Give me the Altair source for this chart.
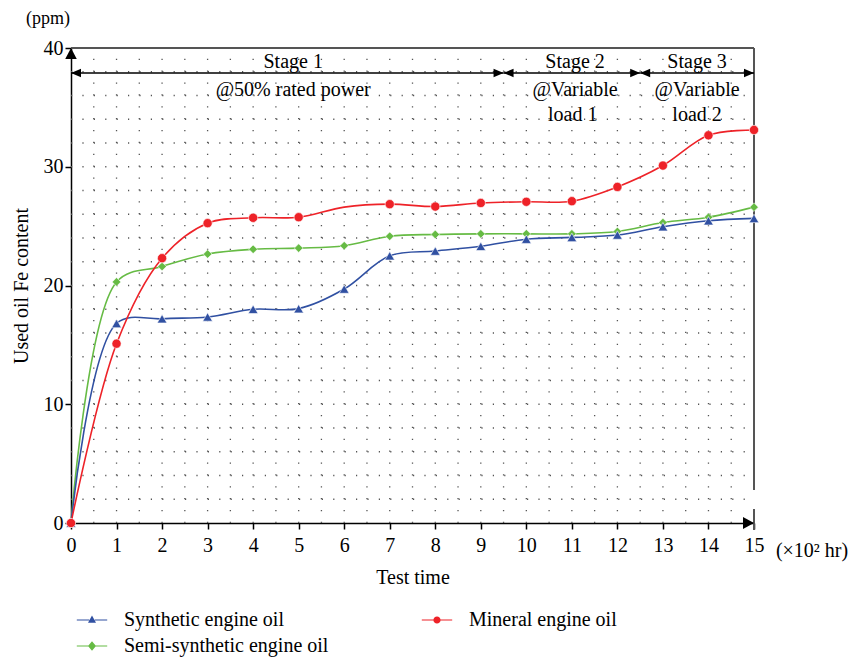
import altair as alt
import pandas as pd

# ---------------- data ----------------
t = list(range(16))
series_names = ["Synthetic engine oil", "Mineral engine oil", "Semi-synthetic engine oil"]
colors = ["#3050a2", "#ee2228", "#66bb44"]
synthetic = [0, 16.8, 17.2, 17.35, 18.0, 18.05, 19.7, 22.5, 22.9, 23.3, 23.9, 24.05, 24.25, 24.95, 25.45, 25.65]
mineral = [0, 15.1, 22.3, 25.25, 25.7, 25.75, 26.6, 26.85, 26.65, 26.95, 27.05, 27.1, 28.3, 30.1, 32.65, 33.1]
semi = [0, 20.3, 21.6, 22.65, 23.05, 23.15, 23.35, 24.15, 24.3, 24.35, 24.35, 24.35, 24.55, 25.3, 25.75, 26.6]
mineral_no_marker = [6]

x_ticks = list(range(16))
y_ticks = [0, 10, 20, 30, 40]

stage_starts = [0, 9.5, 12.5]
stage_ends = [9.5, 12.5, 15]
stage_arrow_y = 37.9
stage_text_x = [4.88, 4.88, 11.07, 11.07, 11.02, 13.75, 13.75, 13.75]
stage_text_y = [38.8, 36.5, 38.8, 36.5, 34.4, 38.8, 36.5, 34.4]
stage_text = ["Stage 1", "@50% rated power", "Stage 2", "@Variable", "load 1",
              "Stage 3", "@Variable", "load 2"]

grid_x = [i / 2 for i in range(1, 30)]
grid_y = [i for i in range(2, 40, 2)]

FONT = "Liberation Serif"

rows = []
for name, vals in [("Semi-synthetic engine oil", semi), ("Synthetic engine oil", synthetic),
                   ("Mineral engine oil", mineral)]:
    for ti, v in zip(t, vals):
        marker = not (name == "Mineral engine oil" and ti in mineral_no_marker)
        rows.append({"t": ti, "value": v, "series": name, "marker": marker})
df = pd.DataFrame(rows)

xs = alt.Scale(domain=[0, 15], nice=False, zero=False)
ys = alt.Scale(domain=[0, 40], nice=False, zero=False)
x_axis = alt.Axis(values=x_ticks, title="Test time", format="d", labelFlush=False,
                  labelPadding=6, titlePadding=12, tickSize=6)
y_axis = alt.Axis(values=y_ticks, title="Used oil Fe content", labelFlush=False,
                  labelPadding=2, titlePadding=12, tickSize=6)


def X(f, **kw):
    return alt.X(f, type="quantitative", scale=xs, axis=x_axis, **kw)


def Y(f, **kw):
    return alt.Y(f, type="quantitative", scale=ys, axis=y_axis, **kw)


# grid
vgrid = alt.Chart(pd.DataFrame({"gx": grid_x, "y0": 0, "y1": 40})).mark_rule(
    color="#555555", strokeWidth=1.3, strokeDash=[1.2, 10.675]
).encode(x=X("gx"), y=Y("y0"), y2="y1")
hgrid = alt.Chart(pd.DataFrame({"gy": grid_y, "x0": 0, "x1": 15})).mark_rule(
    color="#555555", strokeWidth=1.3, strokeDash=[1.2, 10.2]
).encode(y=Y("gy"), x=X("x0"), x2="x1")

# frame (top and right)
top_frame = alt.Chart(pd.DataFrame({"x0": [0], "x1": [15], "y": [40]})).mark_rule(
    color="#555555", strokeWidth=2
).encode(x=X("x0"), x2="x1", y=Y("y"))
right_frame = alt.Chart(pd.DataFrame({"x": [15, 15], "y0": [40, 1.18], "y1": [2.78, -0.6]})).mark_rule(
    color="#555555", strokeWidth=2
).encode(x=X("x"), y=Y("y0"), y2="y1")

# axis arrowheads
y_arrow = alt.Chart(pd.DataFrame({"x": [0], "y": [40]})).mark_point(
    shape="M0,-1L1.05,1L-1.05,1Z", size=121, filled=True, color="black", opacity=1, yOffset=5.5
).encode(x=X("x"), y=Y("y"))
x_arrow = alt.Chart(pd.DataFrame({"x": [15], "y": [0]})).mark_point(
    shape="M1,0L-1,-1.1L-1,1.1Z", size=121, filled=True, color="black", opacity=1, xOffset=-5.5
).encode(x=X("x"), y=Y("y"))

# stage arrows
stage_df = pd.DataFrame({"x0": stage_starts, "x1": stage_ends, "y": stage_arrow_y})
stage_lines = alt.Chart(stage_df).mark_rule(color="black", strokeWidth=1.5).encode(
    x=X("x0"), x2="x1", y=Y("y"))
stage_left = alt.Chart(stage_df).mark_point(
    shape="M-1,0L1,-0.85L1,0.85Z", size=100, filled=True, color="black", opacity=1, xOffset=5
).encode(x=X("x0"), y=Y("y"))
stage_right = alt.Chart(stage_df).mark_point(
    shape="M1,0L-1,-0.85L-1,0.85Z", size=100, filled=True, color="black", opacity=1, xOffset=-5
).encode(x=X("x1"), y=Y("y"))
stage_labels = alt.Chart(pd.DataFrame({"x": stage_text_x, "y": stage_text_y, "txt": stage_text})).mark_text(
    font=FONT, fontSize=20, color="black", align="center", baseline="middle"
).encode(x=X("x"), y=Y("y"), text="txt:N")

# extra texts
ppm = alt.Chart(pd.DataFrame({"x": [0], "y": [40], "txt": ["(ppm)"]})).mark_text(
    font=FONT, fontSize=18, color="black", align="center", baseline="middle", dx=-23, dy=-29
).encode(x=X("x"), y=Y("y"), text="txt:N")
unit = alt.Chart(pd.DataFrame({"x": [15], "y": [0], "txt": ["(×10² hr)"]})).mark_text(
    font=FONT, fontSize=20, color="black", align="center", baseline="middle", dx=58, dy=28
).encode(x=X("x"), y=Y("y"), text="txt:N")

# data lines & markers
color_scale = alt.Scale(domain=series_names, range=colors)
lines = alt.Chart(df).mark_line(interpolate="catmull-rom", strokeWidth=1.6).encode(
    x=X("t"), y=Y("value"),
    color=alt.Color("series:N", scale=color_scale, legend=None),
    detail="series:N",
)
points = alt.Chart(df).transform_filter("datum.marker").mark_point(
    filled=True, opacity=1, stroke="white", strokeWidth=0.6
).encode(
    x=X("t"), y=Y("value"),
    color=alt.Color("series:N", scale=color_scale, legend=None),
    shape=alt.Shape("series:N", scale=alt.Scale(domain=series_names,
                                                range=["triangle-up", "circle", "diamond"]), legend=None),
    size=alt.Size("series:N", scale=alt.Scale(domain=series_names, range=[95, 75, 100]), legend=None),
)

seg = "M-1.9,-0.06L-0.35,-0.06L-0.35,0.06L-1.9,0.06Z M0.35,-0.06L1.9,-0.06L1.9,0.06L0.35,0.06Z "
legend_paths = [
    seg + "M0,-0.55L0.5,0.35L-0.5,0.35Z",
    seg + "M-0.45,0A0.45,0.45 0 1,1 0.45,0A0.45,0.45 0 1,1 -0.45,0Z",
    seg + "M0,-0.6L0.5,0L0,0.6L-0.5,0Z",
]
leg = alt.Legend(orient="none", legendX=11, legendY=562, columns=2, direction="horizontal", title=None,
                 labelFont=FONT, labelFontSize=20, labelColor="black", symbolSize=256, labelLimit=400,
                 labelOffset=22, rowPadding=6, columnPadding=92, padding=0,
                 symbolStrokeWidth=0, symbolOpacity=1)
legend_layer = alt.Chart(df).transform_filter("datum.t < 0").mark_point(filled=True, opacity=1).encode(
    x=X("t"), y=Y("value"),
    color=alt.Color("series:N", scale=alt.Scale(domain=series_names, range=colors), legend=leg),
    shape=alt.Shape("series:N", scale=alt.Scale(domain=series_names, range=legend_paths), legend=leg),
)

chart = alt.layer(
    vgrid, hgrid, top_frame, right_frame, y_arrow, x_arrow,
    stage_lines, stage_left, stage_right, stage_labels, ppm, unit,
    lines, points, legend_layer,
).resolve_scale(color="independent", shape="independent", size="independent").properties(
    width=683, height=475,
    autosize=alt.AutoSizeParams(type="none"),
    padding={"left": 63, "top": 40, "right": 94, "bottom": 138},
).configure_view(stroke=None).configure_axis(
    labelFont=FONT, titleFont=FONT, labelFontSize=20, titleFontSize=20, titleFontWeight="normal",
    labelColor="black", titleColor="black", domainColor="black", tickColor="black",
    domainWidth=1.5, tickWidth=1.5, grid=False,
)

chart.save("out.html", embed_options={"renderer": "svg", "actions": False})
